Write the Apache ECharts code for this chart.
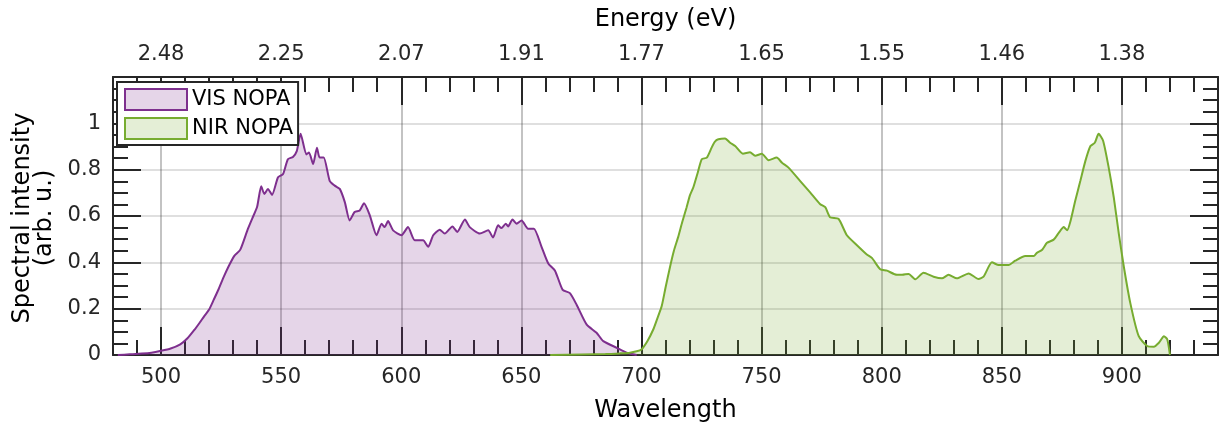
<!DOCTYPE html>
<html>
<head>
<meta charset="utf-8">
<script src="https://cdn.jsdelivr.net/npm/echarts@6/dist/echarts.min.js"></script>
<style>
  html, body { margin: 0; padding: 0; background: #ffffff; }
  #chart { width: 1221px; height: 428px; }
</style>
</head>
<body>
<div id="chart"></div>
<script>
// Spectra of the two noncollinear optical parametric amplifiers (wavelength in nm, intensity normalised)
const visWavelength = [482, 487, 492, 496, 500, 504, 508, 511, 514, 516, 518, 520, 522, 524, 526, 528, 530.5, 533, 536, 538, 540, 541.7, 543, 544.5, 546.2, 548.7, 550.8, 552.8, 554.9, 556.5, 558.1, 560.5, 561.6, 563.3, 564.9, 566, 567.7, 570.2, 572.3, 574.4, 576.5, 578.5, 580.6, 582.7, 584.5, 586.9, 589.7, 591.8, 593.1, 594.5, 596.6, 600.1, 602.8, 605.6, 609.1, 611.2, 613.3, 616, 618.1, 621.3, 623.3, 626.5, 628.5, 632.7, 636.2, 638.2, 640.3, 641.7, 643.5, 644.5, 646.3, 648, 650.1, 652.8, 655.2, 658.4, 661.2, 664, 667.2, 670.2, 673, 677.2, 681.3, 684.1, 689.7, 693.8, 696.6, 698];
const visIntensity = [0.000, 0.003, 0.006, 0.010, 0.018, 0.028, 0.046, 0.072, 0.110, 0.138, 0.168, 0.196, 0.240, 0.285, 0.335, 0.380, 0.428, 0.455, 0.540, 0.590, 0.640, 0.728, 0.695, 0.717, 0.691, 0.767, 0.781, 0.845, 0.855, 0.880, 0.955, 0.866, 0.874, 0.824, 0.895, 0.852, 0.852, 0.752, 0.731, 0.717, 0.660, 0.581, 0.617, 0.624, 0.655, 0.603, 0.517, 0.567, 0.552, 0.578, 0.538, 0.517, 0.552, 0.495, 0.495, 0.467, 0.517, 0.541, 0.524, 0.555, 0.531, 0.585, 0.552, 0.524, 0.538, 0.507, 0.560, 0.548, 0.567, 0.555, 0.585, 0.567, 0.581, 0.545, 0.545, 0.467, 0.395, 0.364, 0.281, 0.267, 0.217, 0.131, 0.096, 0.060, 0.031, 0.010, 0.003, 0.000];

const nirWavelength = [662, 675, 685, 691, 695.2, 698, 700, 702.5, 704.9, 706.5, 708.4, 710, 711.9, 713.5, 715.3, 717, 718.8, 720.2, 721.6, 723.5, 725.1, 727.2, 729.2, 730.5, 732, 734.8, 736.9, 739, 742.2, 745.2, 747.3, 750.1, 752.9, 756.3, 758.5, 761.2, 766, 770.2, 774.3, 776.5, 778.5, 782, 785.5, 789.7, 793.8, 796, 799.4, 802.2, 806.3, 808.5, 811.2, 814, 817.4, 821.6, 825.1, 827.8, 831.3, 836.2, 840.3, 842.4, 845.9, 848.7, 852.8, 855.6, 859.8, 863.3, 864.6, 866.7, 868.8, 871.6, 873.7, 875.8, 877.2, 878.5, 880.6, 882.7, 884.8, 886.9, 888.7, 890.3, 892.2, 894.5, 896.6, 898.7, 900.8, 903.5, 907, 910.5, 913.3, 915.4, 917.5, 918.9, 920];
const nirIntensity = [0.000, 0.002, 0.004, 0.007, 0.010, 0.016, 0.024, 0.060, 0.110, 0.155, 0.210, 0.290, 0.381, 0.450, 0.510, 0.575, 0.638, 0.690, 0.724, 0.790, 0.845, 0.852, 0.895, 0.920, 0.931, 0.935, 0.916, 0.902, 0.869, 0.875, 0.860, 0.869, 0.841, 0.852, 0.830, 0.809, 0.752, 0.702, 0.652, 0.638, 0.595, 0.588, 0.517, 0.474, 0.434, 0.418, 0.370, 0.364, 0.346, 0.346, 0.350, 0.327, 0.355, 0.338, 0.331, 0.346, 0.331, 0.352, 0.328, 0.338, 0.400, 0.388, 0.388, 0.407, 0.427, 0.427, 0.441, 0.453, 0.484, 0.498, 0.527, 0.552, 0.538, 0.574, 0.667, 0.752, 0.838, 0.902, 0.916, 0.955, 0.924, 0.809, 0.681, 0.524, 0.381, 0.224, 0.081, 0.039, 0.036, 0.053, 0.081, 0.067, 0.000];

const seriesNames = ['VIS NOPA', 'NIR NOPA'];
const axisTitles = { bottom: 'Wavelength', top: 'Energy (eV)', left: ['Spectral intensity', '(arb. u.)'] };

// photon energy in eV for a wavelength in nm
const hc = 1240;

const purple = '#7e2f8e';
const green = '#77ac30';
const ink = '#262626';
const font = 'DejaVu Sans';

const zip = (xs, ys) => xs.map((x, i) => [x, ys[i]]);

const chart = echarts.init(document.getElementById('chart'), null, { renderer: 'canvas' });

const xCommon = {
  type: 'value',
  min: 480,
  max: 940,
  splitNumber: 9,
  axisLine: { show: true, onZero: false, lineStyle: { color: ink, width: 2 } },
  axisTick: { show: true, inside: true, length: 28, lineStyle: { color: ink, width: 2 } },
  minorTick: { show: true, splitNumber: 5, length: 15, lineStyle: { color: ink, width: 2 } },
  axisLabel: { color: ink, fontFamily: font, fontSize: 21, margin: 12, showMinLabel: false, showMaxLabel: false },
  nameLocation: 'middle',
  nameTextStyle: { color: '#000', fontFamily: font, fontSize: 24 }
};

const yCommon = {
  type: 'value',
  min: 0,
  max: 1.2,
  interval: 0.2,
  axisLine: { show: true, lineStyle: { color: ink, width: 2 } },
  axisTick: { show: true, inside: true, length: 28, lineStyle: { color: ink, width: 2 } },
  minorTick: { show: true, splitNumber: 4, length: 15, lineStyle: { color: ink, width: 2 } }
};

const option = {
  backgroundColor: '#ffffff',
  animation: false,
  grid: { left: 113, right: 3, top: 77, bottom: 69, containLabel: false },
  legend: {
    orient: 'vertical',
    left: 117,
    top: 82,
    padding: [6, 5, 5, 7],
    itemGap: 6,
    itemWidth: 62,
    itemHeight: 21,
    icon: 'rect',
    backgroundColor: '#ffffff',
    borderColor: ink,
    borderWidth: 2,
    borderRadius: 0,
    textStyle: { color: '#000', fontFamily: font, fontSize: 21 },
    selectedMode: false,
    data: [
      { name: seriesNames[0], itemStyle: { color: 'rgba(126,47,142,0.2)', borderColor: purple, borderWidth: 2 } },
      { name: seriesNames[1], itemStyle: { color: 'rgba(119,172,48,0.2)', borderColor: green, borderWidth: 2 } }
    ]
  },
  xAxis: [
    Object.assign({}, xCommon, {
      position: 'bottom',
      name: axisTitles.bottom,
      nameGap: 44,
      splitLine: { show: true, lineStyle: { color: 'rgba(38,38,38,0.28)', width: 2 } }
    }),
    Object.assign({}, xCommon, {
      position: 'top',
      name: axisTitles.top,
      nameGap: 45,
      axisLabel: Object.assign({}, xCommon.axisLabel, {
        formatter: v => (hc / v).toFixed(2)
      }),
      splitLine: { show: false }
    })
  ],
  yAxis: [
    Object.assign({}, yCommon, {
      position: 'left',
      axisLabel: { color: ink, fontFamily: font, fontSize: 21, margin: 12, showMaxLabel: false },
      splitLine: { show: true, lineStyle: { color: 'rgba(38,38,38,0.15)', width: 2 } }
    }),
    Object.assign({}, yCommon, {
      position: 'right',
      axisLabel: { show: false },
      splitLine: { show: false }
    })
  ],
  // two-line title of the intensity axis, both lines centred on the plot height
  graphic: [
    {
      type: 'text', x: 23, y: 218, rotation: Math.PI / 2,
      style: { text: axisTitles.left[0], fill: '#000', font: '24px "DejaVu Sans"', align: 'center', verticalAlign: 'middle' }
    },
    {
      type: 'text', x: 45, y: 218, rotation: Math.PI / 2,
      style: { text: axisTitles.left[1], fill: '#000', font: '24px "DejaVu Sans"', align: 'center', verticalAlign: 'middle' }
    }
  ],
  series: [
    {
      name: seriesNames[0],
      type: 'line',
      xAxisIndex: 0,
      yAxisIndex: 0,
      data: zip(visWavelength, visIntensity),
      showSymbol: false,
      symbol: 'none',
      smooth: 0.2,
      lineStyle: { color: purple, width: 2 },
      itemStyle: { color: purple },
      areaStyle: { color: purple, opacity: 0.2, origin: 'start' },
      z: 3
    },
    {
      name: seriesNames[1],
      type: 'line',
      xAxisIndex: 0,
      yAxisIndex: 0,
      data: zip(nirWavelength, nirIntensity),
      showSymbol: false,
      symbol: 'none',
      smooth: 0.2,
      lineStyle: { color: green, width: 2 },
      itemStyle: { color: green },
      areaStyle: { color: green, opacity: 0.2, origin: 'start' },
      z: 3
    }
  ]
};

chart.setOption(option);
</script>
</body>
</html>
